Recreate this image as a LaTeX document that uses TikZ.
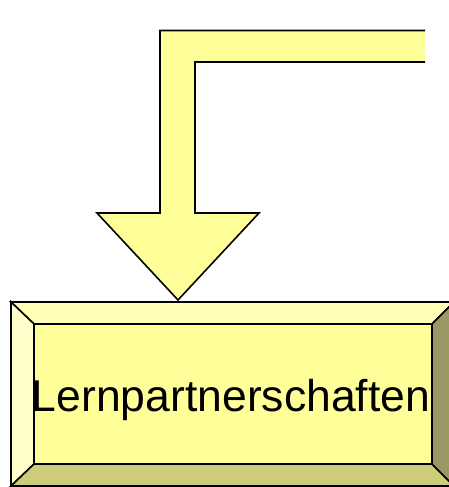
\documentclass[tikz,border=0pt]{standalone}
\usepackage{fontspec}
\setmainfont{Liberation Sans}
\definecolor{face}{HTML}{FFFF99}
\definecolor{bevtop}{HTML}{FFFFB8}
\definecolor{bevleft}{HTML}{FFFFCC}
\definecolor{bevbottom}{HTML}{CCCC7A}
\definecolor{bevright}{HTML}{999966}
\tikzset{
  edge/.style={draw=black, line width=1.6pt, line join=miter},
  label/.style={inner sep=0pt, anchor=base, font=\fontsize{44.5}{50}\selectfont}
}
\begin{document}
\begin{tikzpicture}[x=1pt,y=-1pt]
\useasboundingbox (0,0) rectangle (449,487);
\clip (0,0) rectangle (449,487);
% bent arrow coming in from the right and pointing down
\fill[face] (425,30.5) -- (160,30.5) -- (160,213) -- (97,213) -- (178,300)
  -- (259,213) -- (195,213) -- (195,62) -- (425,62) -- cycle;
\draw[edge] (425,30.5) -- (160,30.5) -- (160,213) -- (97,213) -- (178,300)
  -- (259,213) -- (195,213) -- (195,62) -- (425,62);
% bevelled button
\coordinate (otl) at (11,302);
\coordinate (otr) at (454,302);
\coordinate (obr) at (454,486);
\coordinate (obl) at (11,486);
\coordinate (itl) at (34,324);
\coordinate (itr) at (432,324);
\coordinate (ibr) at (432,464);
\coordinate (ibl) at (34,464);
\filldraw[edge, fill=bevtop] (otl) -- (otr) -- (itr) -- (itl) -- cycle;
\filldraw[edge, fill=bevleft] (otl) -- (itl) -- (ibl) -- (obl) -- cycle;
\filldraw[edge, fill=bevbottom] (obl) -- (ibl) -- (ibr) -- (obr) -- cycle;
\filldraw[edge, fill=bevright] (otr) -- (obr) -- (ibr) -- (itr) -- cycle;
\filldraw[edge, fill=face] (itl) rectangle (ibr);
\node[label] (title) at (231,411.7) {Lernpartnerschaften};
\end{tikzpicture}
\end{document}
